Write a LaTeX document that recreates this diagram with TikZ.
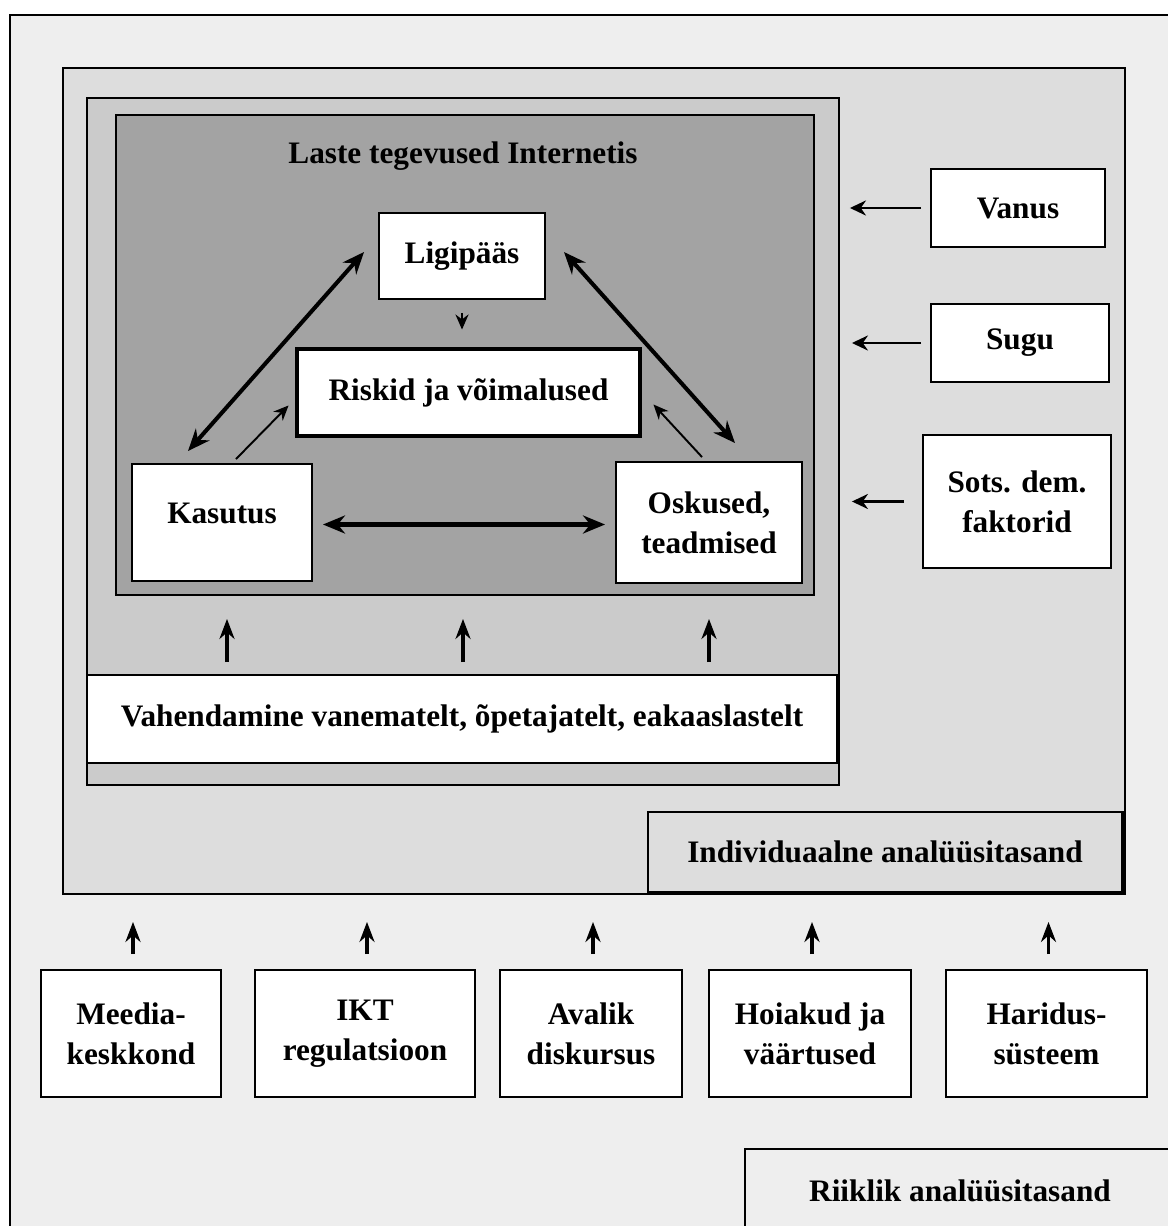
\documentclass[tikz,border=0pt]{standalone}
\usepackage{fontspec}
\setmainfont{Liberation Serif}
\usetikzlibrary{arrows.meta}
\definecolor{lvlA}{HTML}{EEEEEE}
\definecolor{lvlB}{HTML}{DDDDDD}
\definecolor{lvlC}{HTML}{CBCBCB}
\definecolor{lvlD}{HTML}{A3A3A3}
\newcommand{\pxu}{0.02cm}
\tikzset{
  frame/.style={draw, line width=1.1pt, inner sep=0pt, anchor=north west},
  wbox/.style={draw, fill=white, line width=1.1pt, inner sep=0pt, align=center,
    font=\bfseries\fontsize{17.8}{22.7}\selectfont},
  bigarr/.style={{Stealth[length=0.44cm,width=0.36cm]}-{Stealth[length=0.44cm,width=0.36cm]}, line width=2.3pt},
  thinarr/.style={-{Stealth[length=0.3cm,width=0.26cm]}, line width=1.1pt},
  uparr/.style={-{Stealth[length=0.4cm,width=0.3cm]}, line width=2pt},
  sidearr/.style={-{Stealth[length=0.32cm,width=0.3cm]}, line width=1.6pt}
}
\begin{document}
\begin{tikzpicture}[x=0.02cm, y=-0.02cm]
  \useasboundingbox (0,0) rectangle (1168,1226);
  \fill[white] (0,0) rectangle (1168,1226);
  \clip (0,0) rectangle (1168,1226);
  % nested levels
  \node[frame, fill=lvlA, minimum width=1200*\pxu, minimum height=1240*\pxu] (riik) at (9,14) {};
  \node[frame, fill=lvlB, minimum width=1062*\pxu, minimum height=826*\pxu] (indiv) at (62,67) {};
  \node[frame, fill=lvlC, minimum width=752*\pxu, minimum height=687*\pxu] (lvl3) at (86,97) {};
  \node[frame, fill=lvlD, minimum width=698*\pxu, minimum height=480*\pxu] (lvl4) at (115,114) {};
  \node[font=\bfseries\fontsize{17.8}{22.7}\selectfont] (title) at (463,156) {Laste tegevused Internetis};
  % inner triangle
  \node[wbox, minimum width=166*\pxu, minimum height=86*\pxu] (ligi) at (462,256) {Ligipääs};
  \node[wbox, line width=2.8pt, minimum width=343*\pxu, minimum height=87*\pxu] (riskid) at (468.5,392.5) {Riskid ja võimalused};
  \node[wbox, minimum width=180*\pxu, minimum height=117*\pxu] (kasutus) at (222,522.5) {\raisebox{0.38cm}{Kasutus}};
  \node[wbox, minimum width=186*\pxu, minimum height=121*\pxu] (oskused) at (709,522.5) {Oskused,\\teadmised};
  \draw[bigarr] ([xshift=-34*\pxu, yshift=12*\pxu]kasutus.north) -- ([xshift=-14*\pxu, yshift=4*\pxu]ligi.west);
  \draw[bigarr] ([xshift=18*\pxu, yshift=4*\pxu]ligi.east) -- ([xshift=26*\pxu, yshift=18*\pxu]oskused.north);
  \draw[bigarr, shorten <=10*\pxu, shorten >=10*\pxu] ([yshift=-2*\pxu]kasutus.east) -- ([yshift=-2*\pxu]oskused.west);
  \draw[thinarr, line width=1.3pt, shorten <=13*\pxu, shorten >=17*\pxu] (ligi.south) -- (ligi.south |- riskid.north);
  \draw[thinarr] ([xshift=14*\pxu, yshift=4*\pxu]kasutus.north) -- ([xshift=-6*\pxu, yshift=-13*\pxu]riskid.west);
  \draw[thinarr] ([xshift=-7*\pxu, yshift=4*\pxu]oskused.north) -- ([xshift=11*\pxu, yshift=-12*\pxu]riskid.east);
  % mediation
  \node[wbox, minimum width=750*\pxu, minimum height=88*\pxu] (vahend) at (462,719) {Vahendamine vanematelt, õpetajatelt, eakaaslastelt};
  \foreach \dx in {-235,1,247}
    \draw[uparr, shorten <=12*\pxu, shorten >=23*\pxu] ([xshift=\dx*\pxu]vahend.north) -- ([xshift=\dx*\pxu]vahend.north |- lvl4.south);
  % individual factors
  \node[wbox, minimum width=174*\pxu, minimum height=78*\pxu] (vanus) at (1018,208) {Vanus};
  \node[wbox, minimum width=178*\pxu, minimum height=78*\pxu] (sugu) at (1020,343) {Sugu};
  \node[wbox, minimum width=188*\pxu, minimum height=133*\pxu] (sots) at (1017,501.5) {Sots. dem.\\faktorid};
  \draw[sidearr, shorten <=9*\pxu, shorten >=10*\pxu] (vanus.west) -- (vanus.west -| lvl3.east);
  \draw[sidearr, shorten <=9*\pxu, shorten >=12*\pxu] (sugu.west) -- (sugu.west -| lvl3.east);
  \draw[sidearr, shorten <=18*\pxu, shorten >=12*\pxu] (sots.west) -- (sots.west -| lvl3.east);
  \node[wbox, fill=lvlB, minimum width=474*\pxu, minimum height=80*\pxu] (indivlab) at (885,852) {Individuaalne analüüsitasand};
  \draw[line width=2.2pt] (indivlab.north east) -- (indivlab.south east) -- (indivlab.south west);
  % national factors
  \node[wbox, minimum width=180*\pxu, minimum height=127*\pxu] (meedia) at (131,1033.5) {Meedia-\\keskkond};
  \node[wbox, minimum width=220*\pxu, minimum height=127*\pxu] (ikt) at (365,1033.5) {IKT\\regulatsioon};
  \node[wbox, minimum width=182*\pxu, minimum height=127*\pxu] (avalik) at (591,1033.5) {Avalik\\diskursus};
  \node[wbox, minimum width=202*\pxu, minimum height=127*\pxu] (hoiakud) at (810,1033.5) {Hoiakud ja\\väärtused};
  \node[wbox, minimum width=201*\pxu, minimum height=127*\pxu] (haridus) at (1046.5,1033.5) {Haridus-\\süsteem};
  \foreach \b in {meedia,ikt,avalik,hoiakud,haridus}
    \draw[uparr, shorten <=15*\pxu, shorten >=27*\pxu] ([xshift=2*\pxu]\b.north) -- ([xshift=2*\pxu]\b.north |- indiv.south);
  \node[wbox, fill=lvlA, minimum width=430*\pxu, minimum height=84*\pxu] (riiklab) at (960,1191) {Riiklik analüüsitasand};
\end{tikzpicture}
\end{document}
